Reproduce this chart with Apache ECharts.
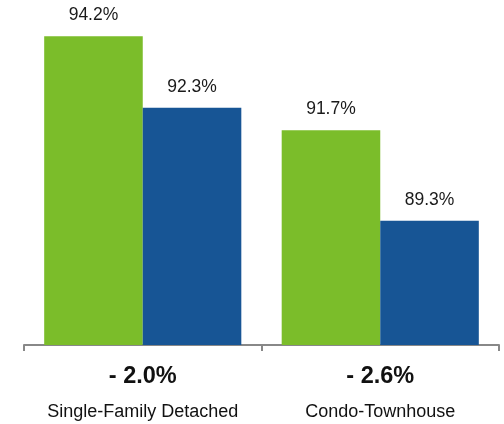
<!DOCTYPE html>
<html><head><meta charset="utf-8">
<script src="https://cdn.jsdelivr.net/npm/echarts@6/dist/echarts.min.js"></script>
<style>html,body{margin:0;padding:0;background:#fff}#c{width:504px;height:424px}</style>
</head><body><div id="c"></div>
<script>
const categories = ['Single-Family Detached', 'Condo-Townhouse'];
const changes = ['- 2.0%', '- 2.6%'];
const seriesA = [94.2, 91.7];
const seriesB = [92.3, 89.3];

const chart = echarts.init(document.getElementById('c'));
const labelCfg = {
  show: true, position: 'top', distance: 12,
  formatter: p => p.value.toFixed(1) + '%',
  fontFamily: 'Liberation Sans', fontSize: 17.5, color: '#1a1a1a'
};
chart.setOption({
  animation: false,
  grid: { left: 24, right: 5, top: 6, bottom: 79 },
  xAxis: {
    type: 'category', data: categories,
    axisLine: { lineStyle: { color: '#888', width: 2 } },
    axisTick: { show: true, length: 6, lineStyle: { color: '#888', width: 2 } },
    axisLabel: {
      margin: 13,
      formatter: (v, i) => '{a|' + changes[i] + '}\n{b|' + v + '}',
      rich: {
        a: { fontFamily: 'Liberation Sans', fontSize: 23.5, fontWeight: 'bold', color: '#111', lineHeight: 38 },
        b: { fontFamily: 'Liberation Sans', fontSize: 18, color: '#111', lineHeight: 32 }
      }
    }
  },
  yAxis: { type: 'value', min: 86, max: 95, show: false, splitLine: { show: false } },
  series: [
    { type: 'bar', data: seriesA, barGap: '0%', barCategoryGap: '17%',
      itemStyle: { color: '#7BBD2A' }, label: labelCfg },
    { type: 'bar', data: seriesB, barGap: '0%', barCategoryGap: '17%',
      itemStyle: { color: '#175595' }, label: labelCfg }
  ]
});
</script></body></html>
